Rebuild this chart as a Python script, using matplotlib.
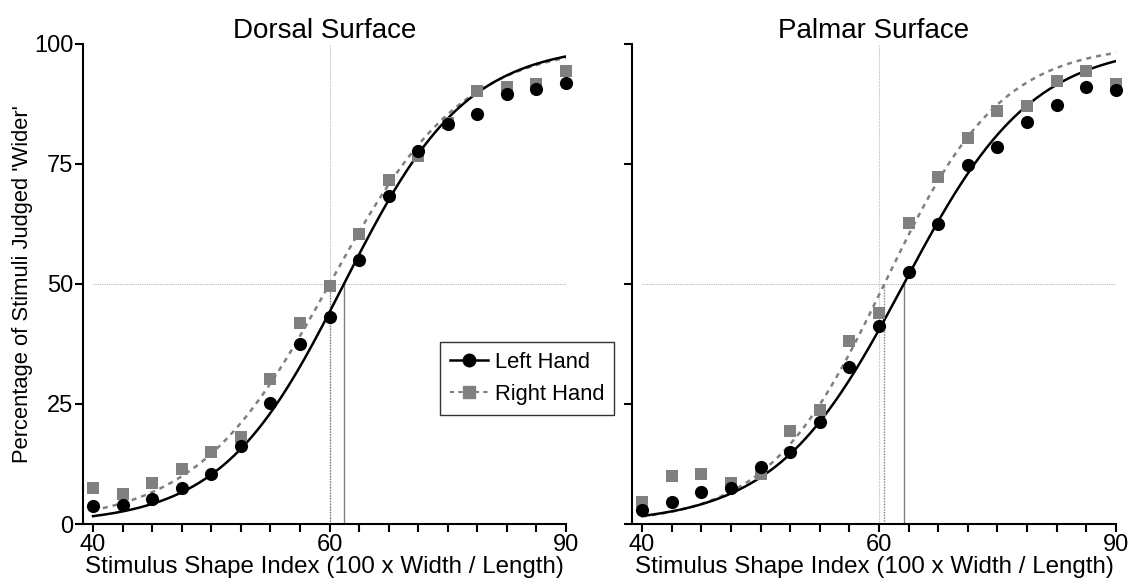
import numpy as np
from matplotlib import pyplot as plt
from matplotlib.lines import Line2D

plt.rcParams['font.family'] = ['Liberation Sans', 'DejaVu Sans']

# 17 stimulus levels, log-spaced between 40 and 90 (60 sits in the middle)
shape_index = list(np.geomspace(40, 90, 17))

dorsal_left = [3.7, 4.0, 5.2, 7.5, 10.5, 16.3, 25.2, 37.6, 43.1,
               55.1, 68.4, 77.8, 83.4, 85.4, 89.5, 90.7, 91.8]
dorsal_right = [7.5, 6.2, 8.5, 11.4, 15.1, 18.2, 30.3, 41.9, 49.5,
                60.4, 71.7, 76.6, 83.5, 90.2, 91.1, 91.7, 94.3]
palmar_left = [2.9, 4.5, 6.7, 7.6, 11.8, 15.0, 21.3, 32.8, 41.2,
               52.5, 62.6, 74.8, 78.6, 83.7, 87.3, 91.1, 90.4]
palmar_right = [4.5, 10.0, 10.4, 8.6, 10.5, 19.3, 23.7, 38.1, 43.9,
                62.8, 72.3, 80.4, 86.1, 87.0, 92.3, 94.4, 91.7]

# fitted psychometric functions (logistic on log shape index): PSE, slope
dorsal_fit = {'left': (61.5, 0.105), 'right': (60.0, 0.115)}
palmar_fit = {'left': (62.6, 0.110), 'right': (60.55, 0.100)}

titles = ['Dorsal Surface', 'Palmar Surface']
gray = '#808080'


def psych(x, pse, s):
    return 100 / (1 + np.exp(-(np.log(x) - np.log(pse)) / s))


fig = plt.figure(figsize=(11.3, 5.81), dpi=100)
ax1 = fig.add_axes([0.0735, 0.0981, 0.4274, 0.8262])
ax2 = fig.add_axes([0.5593, 0.0981, 0.4283, 0.8262])

panels = [(ax1, dorsal_left, dorsal_right, dorsal_fit),
          (ax2, palmar_left, palmar_right, palmar_fit)]

xs = np.geomspace(40, 90, 300)
for i, (ax, left, right, fit) in enumerate(panels):
    # guide lines
    ax.plot([40, 90], [50, 50], color='#b8b8b8', lw=0.8, ls=(0, (1, 1)), zorder=1)
    ax.plot([60, 60], [0, 100], color='#b8b8b8', lw=0.8, ls=(0, (1, 1)), zorder=1)
    # PSE markers
    ax.plot([fit['left'][0]] * 2, [0, 50], color=gray, lw=1.0, zorder=1)
    ax.plot([fit['right'][0]] * 2, [0, 50], color=gray, lw=1.0, ls=(0, (1, 1)), zorder=1)

    ax.plot(xs, psych(xs, *fit['right']), color=gray, lw=1.8, ls=(0, (2, 2)), zorder=2)
    ax.plot(xs, psych(xs, *fit['left']), color='black', lw=1.8, zorder=2)
    ax.scatter(shape_index, right, marker='s', s=70, color=gray, lw=0, zorder=3, clip_on=False)
    ax.scatter(shape_index, left, marker='o', s=90, color='black', lw=0, zorder=4, clip_on=False)

    ax.set_xscale('log')
    ax.set_xlim(39.32, 90)
    ax.set_ylim(0, 100)
    ax.set_xticks(shape_index)
    ax.set_xticklabels(['40' if j == 0 else '60' if j == 8 else '90' if j == 16 else ''
                        for j in range(17)])
    ax.minorticks_off()
    ax.set_yticks([0, 25, 50, 75, 100])
    ax.tick_params(labelsize=17, width=1.5, length=6, direction='out', pad=1)
    for side in ['top', 'right']:
        ax.spines[side].set_visible(False)
    for side in ['left', 'bottom']:
        ax.spines[side].set_linewidth(1.5)
    ax.set_xlabel('Stimulus Shape Index (100 x Width / Length)', fontsize=17.4, labelpad=0)
    ax.set_title(titles[i], fontsize=20, pad=3)

ax1.set_ylabel("Percentage of Stimuli Judged 'Wider'", fontsize=15.8, labelpad=1)
ax2.set_yticklabels([])

handles = [Line2D([], [], color='black', lw=1.8, marker='o', markersize=9),
           Line2D([], [], color=gray, lw=1.5, ls=(0, (2, 2)), marker='s', markersize=8)]
leg = ax1.legend(handles, ['Left Hand', 'Right Hand'], loc='upper left',
                 bbox_to_anchor=(0.739, 0.379), fontsize=15.8, frameon=True, fancybox=False,
                 edgecolor='black', handlelength=1.75, handletextpad=0.3, borderpad=0.45,
                 labelspacing=0.5, borderaxespad=0)
leg.get_frame().set_linewidth(1.0)

plt.savefig('out.png', dpi=100)
